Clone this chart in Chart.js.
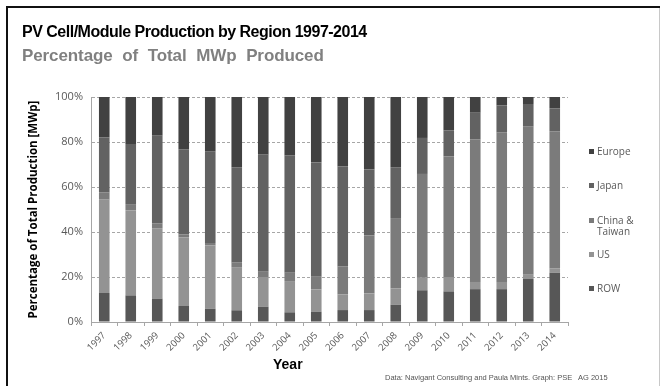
<!DOCTYPE html>
<html>
<head>
<meta charset="utf-8">
<script src="https://cdn.jsdelivr.net/npm/chart.js@4"></script>
<style>
  body { margin: 0; background: #fff; }
  #wrap { position: relative; width: 660px; height: 386px; overflow: hidden; background: #fff; }
  #frameTop { position: absolute; left: 6px; top: 6px; width: 660px; height: 2px; background: #111; }
  #frameLeft { position: absolute; left: 6px; top: 6px; width: 2px; height: 400px; background: #111; }
  #frameRight { position: absolute; left: 659px; top: 8px; width: 1px; height: 400px; background: #c8c8c8; }
  .title { position: absolute; left: 22px; font-family: "Liberation Sans", Arial, sans-serif; font-weight: bold; white-space: nowrap; }
  #t1 { top: 24px; font-size: 16px; line-height: 16px; color: #000; letter-spacing: -0.5px; }
  #t2 { top: 47px; font-size: 17px; line-height: 17px; color: #808080; word-spacing: 5px; letter-spacing: -0.1px; }
  #year { position: absolute; left: 273px; top: 357px; font-family: "Liberation Sans", Arial, sans-serif; font-weight: bold; font-size: 14px; line-height: 14px; color: #000; }
  #source { position: absolute; left: 385px; top: 374px; font-family: "Liberation Sans", Arial, sans-serif; font-size: 7.5px; line-height: 8px; color: #555; white-space: nowrap; }
  #legend { position: absolute; left: 589px; top: 0; font-family: "Open Sans", sans-serif; font-size: 10px; line-height: 11px; color: #595959; }
  .item { position: absolute; left: 0; white-space: nowrap; }
  .box { position: absolute; left: 0; top: 3px; width: 5px; height: 5px; }
  .lbl { position: absolute; left: 8px; top: 0; }
  canvas { position: absolute; left: 0; top: 0; }
</style>
</head>
<body>
<div id="wrap">
  <canvas id="chart" width="660" height="386"></canvas>
  <div id="frameTop"></div>
  <div id="frameLeft"></div>
  <div id="frameRight"></div>
  <div class="title" id="t1">PV Cell/Module Production by Region 1997-2014</div>
  <div class="title" id="t2">Percentage of Total MWp Produced</div>
  <div id="year">Year</div>
  <div id="source">Data: Navigant Consulting and Paula Mints. Graph: PSE&nbsp;&nbsp; AG 2015</div>
  <div id="legend"></div>
</div>
<script>
const years = ['1997','1998','1999','2000','2001','2002','2003','2004','2005','2006',
               '2007','2008','2009','2010','2011','2012','2013','2014'];

// percent of total production per region
const row    = [12.9, 11.8, 10.4, 7.1, 5.9, 5.2, 6.8, 4.3, 4.6, 5.3, 5.3, 7.7, 14.1, 13.6, 14.6, 14.6, 19.1, 21.9];
const us     = [41.5, 37.9, 31.3, 30.5, 28.1, 19.2, 13.2, 13.9, 9.9, 7.0, 7.4, 7.2, 5.6, 6.4, 3.2, 3.2, 1.9, 1.9];
const china  = [3.1, 2.7, 2.2, 1.3, 1.1, 2.1, 2.3, 3.7, 5.6, 12.4, 25.8, 31.3, 46.1, 53.5, 63.3, 66.4, 65.8, 60.8];
const japan  = [24.6, 26.7, 38.9, 37.7, 40.6, 42.1, 52.1, 52.2, 50.8, 44.4, 29.3, 22.6, 16.0, 11.6, 11.9, 12.0, 10.1, 10.4];
const europe = [17.9, 20.9, 17.2, 23.4, 24.3, 31.4, 25.6, 25.9, 29.1, 30.9, 32.2, 31.2, 18.2, 14.9, 7.0, 3.8, 3.1, 5.0];

const yTicks = [0, 20, 40, 60, 80, 100];

const series = [
  { label: 'ROW', data: row, color: '#575757', legendTop: 283 },
  { label: 'US', data: us, color: '#939393', legendTop: 249 },
  { label: ['China &', 'Taiwan'], data: china, color: '#7b7b7b', legendTop: 215 },
  { label: 'Japan', data: japan, color: '#626262', legendTop: 180 },
  { label: 'Europe', data: europe, color: '#414141', legendTop: 146 }
];

// legend (Europe on top, ROW at bottom)
const legend = document.getElementById('legend');
series.slice().reverse().forEach(s => {
  const item = document.createElement('div');
  item.className = 'item';
  item.style.top = s.legendTop + 'px';
  const box = document.createElement('div');
  box.className = 'box';
  box.style.background = s.color;
  const lbl = document.createElement('div');
  lbl.className = 'lbl';
  lbl.innerHTML = [].concat(s.label).join('<br>');
  item.appendChild(box);
  item.appendChild(lbl);
  legend.appendChild(item);
});

const ctx = document.getElementById('chart').getContext('2d');
new Chart(ctx, {
  type: 'bar',
  data: {
    labels: years,
    datasets: series.map(s => ({
      label: [].concat(s.label).join(' '),
      data: s.data,
      backgroundColor: s.color,
      borderWidth: 0,
      categoryPercentage: 1,
      barPercentage: 0.4
    }))
  },
  options: {
    responsive: false,
    animation: false,
    layout: { padding: { left: 27, right: 92, top: 97, bottom: 24 } },
    plugins: {
      legend: { display: false },
      title: { display: false },
      tooltip: { enabled: false }
    },
    scales: {
      x: {
        stacked: true,
        afterFit: axis => { axis.height = 40; },
        grid: { display: true, drawOnChartArea: false, drawTicks: true, tickLength: 4, color: '#a6a6a6', offset: true },
        border: { display: true, color: '#a6a6a6', width: 1 },
        ticks: {
          minRotation: 45, maxRotation: 45, padding: 4,
          color: '#595959',
          font: { family: 'Open Sans', size: 9.5 }
        }
      },
      y: {
        stacked: true,
        min: 0, max: 100,
        afterFit: axis => { axis.width = 64; },
        afterBuildTicks: axis => { axis.ticks = yTicks.map(v => ({ value: v })); },
        grid: {
          drawTicks: false,
          color: c => (c.tick && c.tick.value === 0 ? 'rgba(0,0,0,0)' : '#a6a6a6'),
          lineWidth: 1
        },
        border: { display: true, color: '#a6a6a6', width: 1, dash: [3, 2] },
        ticks: {
          padding: 8,
          color: '#595959',
          font: { family: 'Open Sans', size: 11 },
          callback: v => v + '%'
        },
        title: {
          display: true,
          text: 'Percentage of Total Production [MWp]',
          color: '#000',
          padding: 0,
          font: { family: 'Open Sans', size: 11.5, weight: 'bold' }
        }
      }
    }
  }
});
</script>
</body>
</html>
